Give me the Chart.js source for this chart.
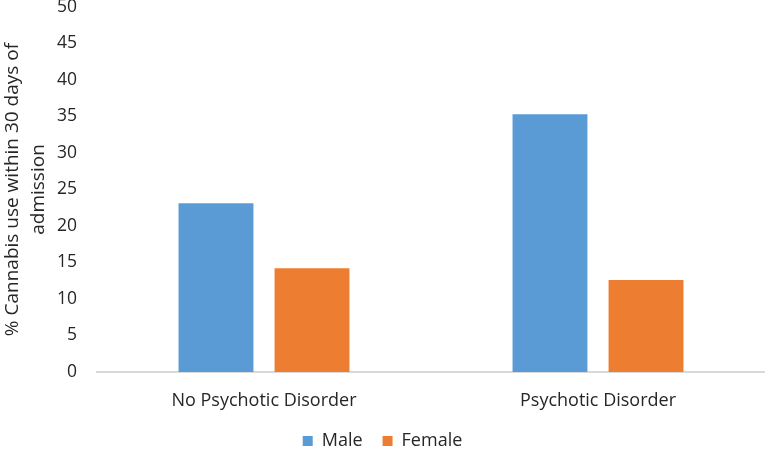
<!DOCTYPE html>
<html lang="en">
<head>
  <meta charset="UTF-8" />
  <title>Cannabis use by psychotic disorder and sex</title>
  <style>
    html, body { margin: 0; padding: 0; background: #fff; }
    #wrap { width: 765px; height: 451px; }
  </style>
</head>
<body>
  <div id="wrap"><canvas id="chart" width="765" height="451"></canvas></div>

  <script src="https://cdn.jsdelivr.net/npm/chart.js"></script>
  <script>
    const categories = ['No Psychotic Disorder', 'Psychotic Disorder'];
    const maleValues = [23.1, 35.3];
    const femaleValues = [14.2, 12.6];
    const yTitle = ['% Cannabis use within 30 days of', 'admission'];

    const font = "'Open Sans', sans-serif";

    new Chart(document.getElementById('chart').getContext('2d'), {
      type: 'bar',
      data: {
        labels: categories,
        datasets: [
          { label: 'Male', data: maleValues, backgroundColor: '#5b9bd5' },
          { label: 'Female', data: femaleValues, backgroundColor: '#ed7d31' }
        ]
      },
      options: {
        responsive: false,
        animation: false,
        categoryPercentage: 0.575,
        barPercentage: 0.78,
        layout: { padding: { top: 0, left: 0, right: 0, bottom: -9 } },
        plugins: {
          tooltip: { enabled: false },
          legend: {
            position: 'bottom',
            labels: {
              boxWidth: 10,
              boxHeight: 10,
              padding: 20,
              color: '#262626',
              font: { family: font, size: 18 }
            }
          }
        },
        scales: {
          x: {
            grid: { display: false },
            border: { display: true, color: '#d9d9d9', width: 2 },
            ticks: { color: '#262626', padding: 10, font: { family: font, size: 18 } },
            afterFit: function (scale) { scale.height = 40; }
          },
          y: {
            min: 0,
            max: 50,
            ticks: { stepSize: 5, color: '#262626', padding: 12, font: { family: font, size: 17.5 } },
            grid: { display: false },
            border: { display: false },
            title: {
              display: true,
              text: yTitle,
              color: '#262626',
              padding: { top: 0, bottom: 0 },
              font: { family: font, size: 19, lineHeight: 1.37 }
            },
            afterFit: function (scale) {
              scale.width = 97;
              scale.paddingTop = 7;
            }
          }
        }
      }
    });
  </script>
</body>
</html>
